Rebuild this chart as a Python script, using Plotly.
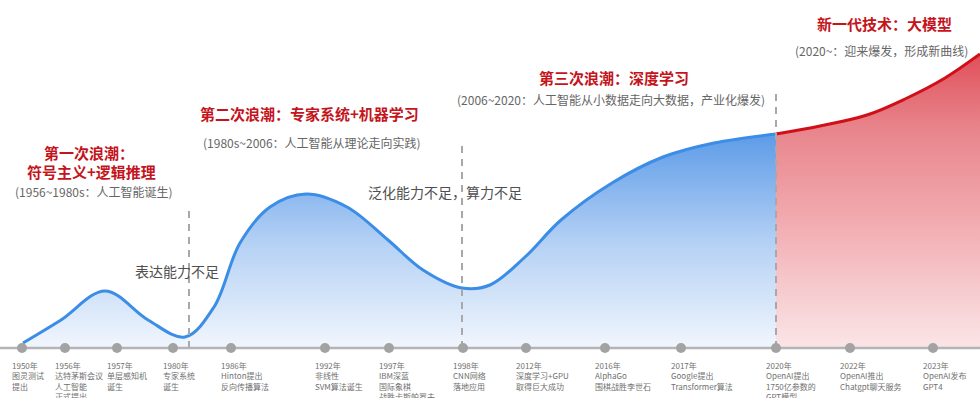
import plotly.graph_objects as go

# Milestones along the timeline (position on the horizontal layout axis)
milestone_pos = [22, 65, 117, 173, 231, 325, 389, 463, 526, 605, 681, 776, 850, 933]
milestone_labels = [
    ["1950年", "图灵测试", "提出"],
    ["1956年", "达特茅斯会议", "人工智能", "正式提出"],
    ["1957年", "单层感知机", "诞生"],
    ["1980年", "专家系统", "诞生"],
    ["1986年", "Hinton提出", "反向传播算法"],
    ["1992年", "非线性", "SVM算法诞生"],
    ["1997年", "IBM深蓝", "国际象棋", "战胜卡斯帕罗夫"],
    ["1998年", "CNN网络", "落地应用"],
    ["2012年", "深度学习+GPU", "取得巨大成功"],
    ["2016年", "AlphaGo", "围棋战胜李世石"],
    ["2017年", "Google提出", "Transformer算法"],
    ["2020年", "OpenAI提出", "1750亿参数的", "GPT模型"],
    ["2022年", "OpenAI推出", "Chatgpt聊天服务"],
    ["2023年", "OpenAI发布", "GPT4"],
]

# Development curve: three waves (blue) and the large-model era (red)
wave_x = [23, 61, 105, 148, 185, 214, 240, 270, 306, 347, 388, 423, 462,
          490, 525, 561, 612, 663, 714, 776]
wave_y = [5, 28, 57, 28, 11, 41, 105, 141, 154, 141, 108, 78, 60,
          63, 91, 128, 165, 191, 205, 214]
model_x = [776, 820, 867, 905, 945, 980]
model_y = [214, 222, 233, 249, 270, 294]

# Era boundaries (dashed) : position, top height
boundary_x = [189, 462, 776]
boundary_top = [143, 208, 260]

CJK = "Noto Sans CJK SC"
RED = "#c4141c"
GREY_TXT = "#666666"

fig = go.Figure()

fig.add_trace(go.Scatter(
    x=wave_x, y=wave_y, mode="lines",
    line=dict(color="#3b8de6", width=3, shape="spline", smoothing=1.0),
    fill="tozeroy",
    fillgradient=dict(type="vertical",
                      colorscale=[[0, "#f1f6fd"], [0.5, "#b3d0f4"], [1, "#5d9be8"]],
                      start=0, stop=214),
    hoverinfo="skip", showlegend=False))

fig.add_trace(go.Scatter(
    x=model_x, y=model_y, mode="lines",
    line=dict(color="#cf1019", width=3, shape="spline", smoothing=1.0),
    fill="tozeroy",
    fillgradient=dict(type="vertical",
                      colorscale=[[0, "#fbe5e7"], [0.45, "#f1a9ae"],
                                  [0.75, "#e8848b"], [1, "#e0505a"]],
                      start=0, stop=294),
    hoverinfo="skip", showlegend=False))

# dashed era boundaries
for bx, bt in zip(boundary_x, boundary_top):
    fig.add_trace(go.Scatter(
        x=[bx, bx], y=[0, bt], mode="lines",
        line=dict(color="#a8a8a8", width=2, dash="7px,6px"),
        hoverinfo="skip", showlegend=False))

# timeline axis and milestone dots
fig.add_trace(go.Scatter(
    x=[0, 980], y=[0, 0], mode="lines",
    line=dict(color="#b4b4b4", width=2.5),
    hoverinfo="skip", showlegend=False))
fig.add_trace(go.Scatter(
    x=milestone_pos, y=[0] * len(milestone_pos), mode="markers",
    marker=dict(color="#a3a3a3", size=10),
    hoverinfo="skip", showlegend=False))

annotations = []
for pos, lines in zip(milestone_pos, milestone_labels):
    annotations.append(dict(
        x=pos - 11, y=-11, text="<br>".join(lines), showarrow=False,
        xanchor="left", yanchor="top", align="left", borderpad=0,
        font=dict(family=CJK, size=8, color="#707070")))


def label(x, y, text, size, color, bold=False, anchor="center"):
    if bold:
        text = "<b>" + text + "</b>"
    annotations.append(dict(
        x=x, y=y, text=text, showarrow=False, xanchor=anchor, yanchor="middle",
        font=dict(family=CJK, size=size, color=color)))


# era titles and descriptions
label(89, 348 - 152, "第一次浪潮：", 15, RED, True)
label(91, 348 - 171, "符号主义+逻辑推理", 15, RED, True)
label(13, 348 - 191, "(1956~1980s：人工智能诞生)", 12, GREY_TXT, anchor="left")

label(198, 348 - 113, "第二次浪潮：专家系统+机器学习", 15, RED, True, anchor="left")
label(201, 348 - 142, "(1980s~2006：人工智能从理论走向实践)", 12, GREY_TXT, anchor="left")

label(537, 348 - 77, "第三次浪潮：深度学习", 15, RED, True, anchor="left")
label(455, 348 - 99, "(2006~2020：人工智能从小数据走向大数据，产业化爆发)", 12, GREY_TXT, anchor="left")

label(815, 348 - 23, "新一代技术：大模型", 15, RED, True, anchor="left")
label(793, 348 - 50, "(2020~：迎来爆发，形成新曲线)", 12, GREY_TXT, anchor="left")

# bottlenecks between waves
label(133, 348 - 271, "表达能力不足", 14, "#505050", anchor="left")
label(366, 348 - 192, "泛化能力不足，算力不足", 14, "#505050", anchor="left")

fig.update_layout(
    width=980, height=398,
    margin=dict(l=0, r=0, t=0, b=0),
    paper_bgcolor="white", plot_bgcolor="white",
    xaxis=dict(range=[0, 980], visible=False, fixedrange=True),
    yaxis=dict(range=[-50, 348], visible=False, fixedrange=True),
    annotations=annotations,
    showlegend=False,
)

fig.write_html("out.html")
